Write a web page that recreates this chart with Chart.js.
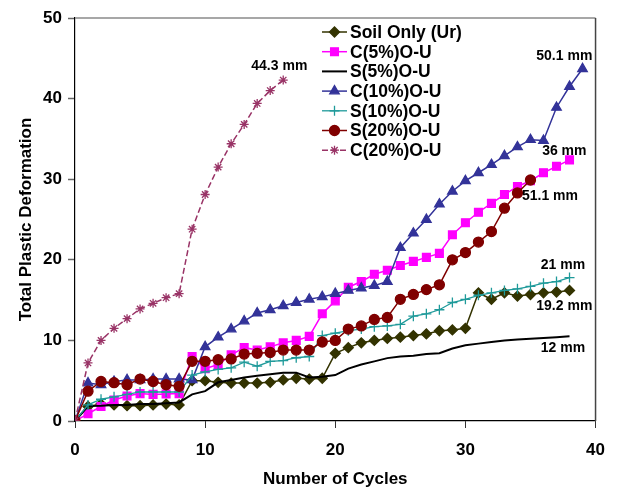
<!DOCTYPE html>
<html>
<head>
<meta charset="utf-8">
<script src="https://cdn.jsdelivr.net/npm/chart.js@4.4.1/dist/chart.umd.min.js"></script>
<style>
  body { margin: 0; background: #fff; }
</style>
</head>
<body>
<canvas id="cycleChart" width="617" height="490"></canvas>
<script>
const cycles = [0, 1, 2, 3, 4, 5, 6, 7, 8, 9, 10, 11, 12, 13, 14, 15, 16, 17, 18, 19,
                20, 21, 22, 23, 24, 25, 26, 27, 28, 29, 30, 31, 32, 33, 34, 35, 36, 37, 38, 39];

const soilOnly = [0, 1.8, 2.1, 2.0, 1.9, 1.9, 2.0, 2.1, 2.0, 5.0, 5.0, 4.8, 4.7, 4.7, 4.7, 4.8, 5.1, 5.3, 5.2, 5.3,
                  8.4, 9.1, 9.7, 10.0, 10.25, 10.4, 10.6, 10.8, 11.2, 11.3, 11.5, 15.9, 15.1, 15.9, 15.5, 15.7, 15.9, 16.0, 16.2];
const c5 = [0, 0.9, 1.8, 2.6, 3.1, 3.4, 3.3, 3.35, 3.4, 8.0, 6.5, 7.0, 8.2, 9.1, 8.8, 9.2, 9.7, 10.0, 10.5, 13.3,
            14.9, 16.6, 17.3, 18.2, 18.7, 19.3, 19.8, 20.3, 20.8, 23.1, 24.6, 25.9, 27.0, 28.1, 29.1, 29.8, 30.8, 31.6, 32.4];
const s5 = [0, 1.85, 1.9, 2.0, 2.0, 2.1, 2.1, 2.2, 2.3, 3.3, 3.7, 4.8, 5.1, 5.4, 5.6, 5.8, 6.0, 6.0, 5.4, 5.5,
            5.7, 6.5, 7.0, 7.4, 7.8, 8.0, 8.1, 8.3, 8.4, 9.0, 9.4, 9.6, 9.8, 10.0, 10.1, 10.2, 10.3, 10.4, 10.5];
const c10 = [0, 4.7, 4.5, 4.9, 5.1, 5.1, 5.2, 5.2, 5.2, 5.1, 9.2, 10.4, 11.4, 12.4, 13.4, 13.8, 14.3, 14.7, 15.1, 15.4,
             15.8, 16.2, 16.5, 16.8, 17.3, 21.5, 23.3, 25.0, 26.9, 28.5, 29.8, 30.8, 31.8, 32.9, 34.0, 34.9, 34.8, 38.9, 41.5, 43.7];
const s10 = [0, 2.0, 2.7, 3.0, 3.3, 3.6, 3.6, 3.6, 3.6, 5.7, 6.1, 6.4, 6.6, 7.3, 6.8, 7.4, 7.5, 7.85, 8.0, 10.6,
             10.9, 11.2, 11.4, 11.7, 11.8, 12.0, 13.0, 13.3, 13.8, 14.7, 15.1, 15.6, 15.9, 16.2, 16.4, 16.7, 17.1, 17.3, 17.8];
const s20 = [0, 3.7, 4.9, 4.75, 4.5, 5.2, 4.9, 4.5, 4.3, 7.4, 7.4, 7.6, 7.7, 8.3, 8.4, 8.5, 8.8, 8.8, 8.8, 9.8,
             10.0, 11.4, 11.8, 12.6, 12.85, 15.1, 15.7, 16.3, 16.9, 20.0, 20.9, 22.2, 23.5, 26.4, 28.3, 29.9];
const c20 = [0, 7.2, 10.0, 11.5, 12.7, 13.9, 14.6, 15.3, 15.8, 23.8, 28.1, 31.5, 34.4, 36.8, 39.4, 41.0, 42.3];

const seriesNames = ['Soil Only (Ur)', 'C(5%)O-U', 'S(5%)O-U', 'C(10%)O-U', 'S(10%)O-U', 'S(20%)O-U', 'C(20%)O-U'];

// end-of-test labels, placed in data units
const noteText = ['44.3 mm', '50.1 mm', '36 mm', '51.1 mm', '21 mm', '19.2 mm', '12 mm'];
const noteX = [15.7, 37.6, 37.6, 36.5, 37.5, 37.6, 37.5];
const noteY = [44.0, 45.3, 33.5, 27.9, 19.35, 14.3, 9.1];

const xTicks = [0, 10, 20, 30, 40];
const yTicks = [0, 10, 20, 30, 40, 50];

const FONT = "'Liberation Sans', Arial, sans-serif";

function toPoints(values) {
    return values.map((v, i) => ({ x: cycles[i], y: v }));
}

const styles = [
    { color: '#333300', style: 'rectRot', radius: 5, width: 1.5 },
    { color: '#ff00ff', style: 'rect', radius: 5.5, width: 1.5 },
    { color: '#000000', style: false, radius: 0, width: 2 },
    { color: '#333399', style: 'triangle', radius: 5.5, width: 1.5 },
    { color: '#1f9a9a', style: 'cross', radius: 5, width: 1.3 },
    { color: '#800000', style: 'circle', radius: 5, width: 1.5 },
    { color: '#993366', style: 'star', radius: 4.5, width: 1.5, dash: [6, 3] }
];
const seriesValues = [soilOnly, c5, s5, c10, s10, s20, c20];

const datasets = seriesValues.map((vals, i) => ({
    label: seriesNames[i],
    data: toPoints(vals),
    borderColor: styles[i].color,
    backgroundColor: styles[i].color,
    borderWidth: styles[i].width,
    borderDash: styles[i].dash || [],
    pointStyle: styles[i].style,
    pointRadius: styles[i].radius,
    pointBorderWidth: 1.3,
    pointHoverRadius: styles[i].radius,
    tension: 0,
    order: seriesValues.length - i
}));

const legendBox = {
    id: 'legendBox',
    afterDraw(chart) {
        const ctx = chart.ctx;
        ctx.save();
        chart.data.datasets.forEach((ds, i) => {
            const y = 32 + i * 19.7;
            ctx.strokeStyle = ds.borderColor;
            ctx.fillStyle = ds.backgroundColor;
            ctx.lineWidth = ds.borderWidth;
            ctx.setLineDash(ds.borderDash);
            ctx.beginPath();
            ctx.moveTo(322, y);
            ctx.lineTo(347, y);
            ctx.stroke();
            ctx.setLineDash([]);
            if (ds.pointStyle) {
                ctx.lineWidth = ds.pointBorderWidth;
                Chart.helpers.drawPoint(ctx, {
                    pointStyle: ds.pointStyle, radius: ds.pointRadius, rotation: 0, borderWidth: ds.pointBorderWidth
                }, 334.5, y);
            }
            ctx.fillStyle = '#000';
            ctx.font = 'bold 17.5px ' + FONT;
            ctx.textAlign = 'left';
            ctx.textBaseline = 'middle';
            ctx.fillText(ds.label, 350, y + 1);
        });
        ctx.restore();
    }
};

const endNotes = {
    id: 'endNotes',
    afterDatasetsDraw(chart) {
        const ctx = chart.ctx;
        const xs = chart.scales.x, ys = chart.scales.y;
        ctx.save();
        ctx.fillStyle = '#000';
        ctx.font = 'bold 14px ' + FONT;
        ctx.textAlign = 'center';
        ctx.textBaseline = 'middle';
        noteText.forEach((t, i) => {
            ctx.fillText(t, xs.getPixelForValue(noteX[i]), ys.getPixelForValue(noteY[i]));
        });
        // frame: grey top, dark right
        const a = chart.chartArea;
        ctx.lineWidth = 1.5;
        ctx.strokeStyle = '#8a8a8a';
        ctx.beginPath();
        ctx.moveTo(a.left, a.top);
        ctx.lineTo(a.right, a.top);
        ctx.stroke();
        ctx.strokeStyle = '#444';
        ctx.beginPath();
        ctx.moveTo(a.right, a.top);
        ctx.lineTo(a.right, a.bottom);
        ctx.stroke();
        ctx.restore();
    }
};

const ctx = document.getElementById('cycleChart').getContext('2d');
new Chart(ctx, {
    type: 'line',
    data: { datasets: datasets },
    options: {
        responsive: false,
        animation: false,
        devicePixelRatio: 1,
        layout: { padding: { top: 18, right: 19, left: 0, bottom: 0 } },
        plugins: {
            legend: { display: false },
            tooltip: { enabled: false }
        },
        scales: {
            x: {
                type: 'linear',
                min: 0,
                max: 40,
                afterBuildTicks: (scale) => { scale.ticks = xTicks.map(v => ({ value: v })); },
                afterFit: (scale) => { scale.height = 69; },
                grid: { drawOnChartArea: false, tickLength: 7, color: '#333', tickWidth: 1 },
                border: { color: '#000', width: 1.2 },
                ticks: { color: '#000', padding: 12, maxRotation: 0, font: { family: FONT, size: 17, weight: 'bold' } },
                title: {
                    display: true,
                    text: 'Number of Cycles',
                    color: '#000',
                    padding: { top: 0, bottom: 0 },
                    font: { family: FONT, size: 17, weight: 'bold' }
                }
            },
            y: {
                min: 0,
                max: 50,
                afterBuildTicks: (scale) => { scale.ticks = yTicks.map(v => ({ value: v })); },
                afterFit: (scale) => { scale.width = 75; },
                grid: { drawOnChartArea: false, tickLength: 7, color: '#666', tickWidth: 1.5 },
                border: { color: '#000', width: 1.2 },
                ticks: { color: '#000', padding: 6, font: { family: FONT, size: 17, weight: 'bold' } },
                title: {
                    display: true,
                    text: 'Total Plastic Deformation',
                    color: '#000',
                    padding: { top: 16, bottom: 0 },
                    font: { family: FONT, size: 17, weight: 'bold' }
                }
            }
        }
    },
    plugins: [legendBox, endNotes]
});
</script>
</body>
</html>
